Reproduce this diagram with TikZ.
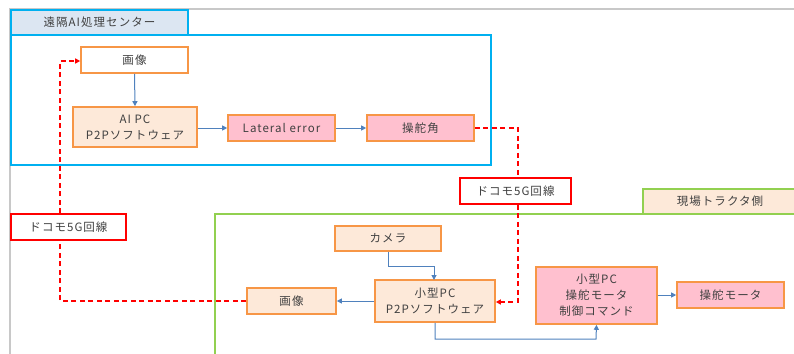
\documentclass[tikz,border=0pt]{standalone}
\usepackage{fontspec}
\setmainfont{Noto Sans CJK JP}
\usetikzlibrary{arrows.meta}
\definecolor{frame}{HTML}{C8C8C8}
\definecolor{bluebox}{HTML}{00B0F0}
\definecolor{tabblue}{HTML}{DCE6F2}
\definecolor{orangeb}{HTML}{F79646}
\definecolor{peach}{HTML}{FDE9D9}
\definecolor{pinkf}{HTML}{FFC0CF}
\definecolor{redl}{HTML}{FF0000}
\definecolor{greenb}{HTML}{92D050}
\definecolor{arrowb}{HTML}{4F81BD}
\definecolor{txt}{HTML}{404040}
\newcommand{\lblfont}{\fontsize{11.5}{16}\selectfont\addfontfeature{LetterSpace=9}}
\tikzset{
  box/.style={draw=orangeb, line width=1.6pt, rectangle, inner sep=0pt, align=center,
    font=\lblfont, text=txt},
  whitebox/.style={box, fill=white},
  peachbox/.style={box, fill=peach},
  pinkbox/.style={box, fill=pinkf},
  redbox/.style={draw=redl, line width=1.8pt, fill=white, rectangle, inner sep=0pt,
    font=\lblfont, text=txt},
  flow/.style={draw=arrowb, line width=1pt, -{Triangle[length=5pt,width=5pt]}},
  link/.style={draw=redl, line width=1.5pt, dash pattern=on 5pt off 3.5pt},
  linkarrow/.style={link, -{Triangle[length=5pt,width=5pt]}},
}
\begin{document}
\begin{tikzpicture}[x=1pt,y=-1pt]
\useasboundingbox (0,0) rectangle (794,353);
\clip (0,0) rectangle (794,353);
% outer grey frame
\draw[frame, line width=1.5pt] (10,360) -- (10,9) -- (800,9);
% remote AI center
\draw[bluebox, line width=2pt] (11,35) rectangle (491,165);
\node[draw=bluebox, line width=2pt, fill=tabblue, minimum width=177pt, minimum height=25pt,
  inner sep=0pt, font=\lblfont, text=txt] (center) at (99.5,22.5) {遠隔AI処理センター};
% field tractor side
\draw[greenb, line width=2pt] (800,214) -- (215,214) -- (215,360);
\draw[greenb, line width=2pt, fill=peach] (643,189) rectangle (800,214);
\node[font=\lblfont, text=txt] (field) at (720,201.5) {現場トラクタ側};
% nodes top
\node[whitebox, minimum width=107pt, minimum height=26pt] (img1) at (134.5,60) {画像};
\node[peachbox, minimum width=124pt, minimum height=40pt] (aipc) at (135,127) {AI PC\\P2Pソフトウェア};
\node[pinkbox, minimum width=107pt, minimum height=26pt] (lat) at (281.5,128) {Lateral error};
\node[pinkbox, minimum width=107pt, minimum height=26pt] (steer) at (420.5,128) {操舵角};
% red line boxes
\node[redbox, minimum width=111pt, minimum height=26pt] (dcm1) at (515.5,191) {ドコモ5G回線};
\node[redbox, minimum width=115pt, minimum height=26pt] (dcm2) at (68.5,227) {ドコモ5G回線};
% nodes bottom
\node[peachbox, minimum width=106pt, minimum height=25pt] (cam) at (388,238.5) {カメラ};
\node[peachbox, minimum width=120pt, minimum height=42pt] (smpc) at (435,301) {小型PC\\P2Pソフトウェア};
\node[peachbox, minimum width=89pt, minimum height=26pt] (img2) at (291.5,301) {画像};
\node[pinkbox, minimum width=121pt, minimum height=57pt] (cmd) at (596.5,295.5) {小型PC\\操舵モータ\\制御コマンド};
\node[pinkbox, minimum width=107pt, minimum height=26pt] (motor) at (730.5,295) {操舵モータ};
% connectors top
\draw[flow] (img1.south) -- (aipc.north);
\draw[flow] (aipc.east |- lat.west) -- (lat.west);
\draw[flow] (lat.east) -- (steer.west);
% red links
\coordinate (r1) at (518,128);
\coordinate (r2) at (518,302);
\draw[link] (steer.east) -- (r1) -- (r1 |- dcm1.north);
\draw[linkarrow] (r2 |- dcm1.south) -- (r2) -- (smpc.east |- r2);
\coordinate (l1) at (60,61);
\coordinate (l2) at (60,301);
\draw[linkarrow] (dcm2.north -| l1) -- (l1) -- (img1.west |- l1);
\draw[link] (img2.west) -- (l2) -- (dcm2.south -| l2);
% connectors bottom
\coordinate (c1) at (388,266);
\draw[flow] (cam.south) -- (c1) -- (434,266) -- (434,280);
\draw[flow] (smpc.west |- img2.east) -- (img2.east);
\coordinate (b1) at (435,339);
\draw[flow] (smpc.south -| b1) -- (b1) -- (596,339) -- (cmd.south);
\draw[flow] (cmd.east |- motor.west) -- (motor.west);
\end{tikzpicture}
\end{document}
